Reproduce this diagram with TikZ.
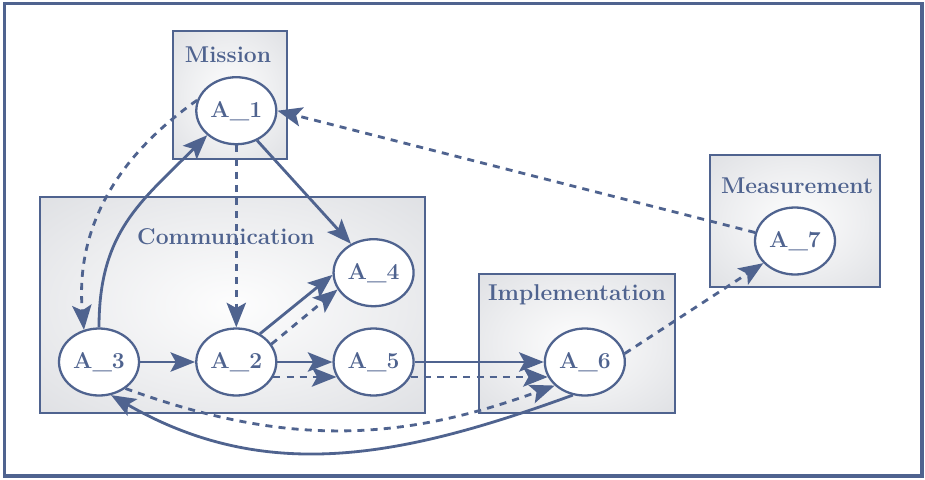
\documentclass[tikz,border=0pt]{standalone}
\usepackage{xcolor}
\usepackage{tikz}
\usetikzlibrary{positioning}
\usetikzlibrary{shapes.geometric}
\usetikzlibrary{arrows.meta}

\definecolor{slateblue}{RGB}{79,99,143}
\definecolor{boxgray}{RGB}{210,212,217}
\pgfdeclareradialshading{boxshade}{\pgfpoint{0bp}{0bp}}{%
  color(0bp)=(white!96!boxgray); color(20bp)=(white!60!boxgray);
  color(50bp)=(boxgray); color(75bp)=(boxgray)}

\begin{document}
\begin{tikzpicture}[
          node distance=1.1cm and 1.1cm,
          font=\fontsize{13}{15}\selectfont\bfseries,
          actnode/.style={draw=slateblue,line width=1.3pt,fill=white,ellipse,
                          minimum width=1.6cm,minimum height=1.34cm,inner sep=0pt,
                          text=slateblue},
          groupbox/.style={draw=slateblue,line width=1.2pt,shading=boxshade},
          grouplabel/.style={text=slateblue},
          link/.style={draw=slateblue,line width=1.6pt,-{Stealth[length=14pt,width=11pt,inset=3pt]}},
          dlink/.style={link,dash pattern=on 4pt off 3.5pt}
          ]

          \useasboundingbox (0,0) rectangle (18.5,-9.58);
          \draw[slateblue,line width=2pt] (0.09,-0.07) rectangle (18.44,-9.52);

          % groups
          \path[groupbox] (3.46,-0.62) rectangle (5.74,-3.18);
          \path[groupbox] (0.80,-3.94) rectangle (8.50,-8.26);
          \path[groupbox] (9.58,-5.48) rectangle (13.50,-8.26);
          \path[groupbox] (14.20,-3.10) rectangle (17.60,-5.74);

          \node[grouplabel] (mission) at (4.56,-1.10) {Mission};
          \node[grouplabel] (communication) at (4.52,-4.74) {Communication};
          \node[grouplabel] (implementation) at (11.54,-5.90) {Implementation};
          \node[grouplabel] (measurement) at (15.94,-3.72) {Measurement};

          % activities
          \node[actnode] (a3) at (1.98,-7.24) {A\_3};
          \node[actnode,right=of a3] (a2) {A\_2};
          \node[actnode,right=of a2] (a5) {A\_5};
          \node[actnode,above=0.4cm of a5] (a4) {A\_4};
          \node[actnode,right=2.58cm of a5] (a6) {A\_6};
          \node[actnode,above=3.64cm of a2] (a1) {A\_1};
          \node[actnode] (a7) at (15.9,-4.82) {A\_7};

          \path (a3) edge[link] (a2)
          (a2) edge[link] (a5)
          (a5) edge[link] (a6)
          (a2.50) edge[link] (a4.183)
          (a1.-55) edge[link] (a4.128)
          (a3.north) edge[link,out=90,in=225,looseness=1.1] (a1.south west)
          (a6.250) edge[link,out=200,in=-30] (a3.290)
          ;

          \path (a1) edge[dlink] (a2)
          (a1.165) edge[dlink,out=215,in=95] (a3.115)
          (a2.27) edge[dlink] (a4.205)
          (a2.-22) edge[dlink] (a5.202)
          (a5.-22) edge[dlink] (a6.202)
          (a3.-45) edge[dlink,out=-20,in=200] (a6.218)
          (a6.12) edge[dlink] (a7.215)
          (a7.168) edge[dlink] (a1.east)
          ;
        \end{tikzpicture}
\end{document}
